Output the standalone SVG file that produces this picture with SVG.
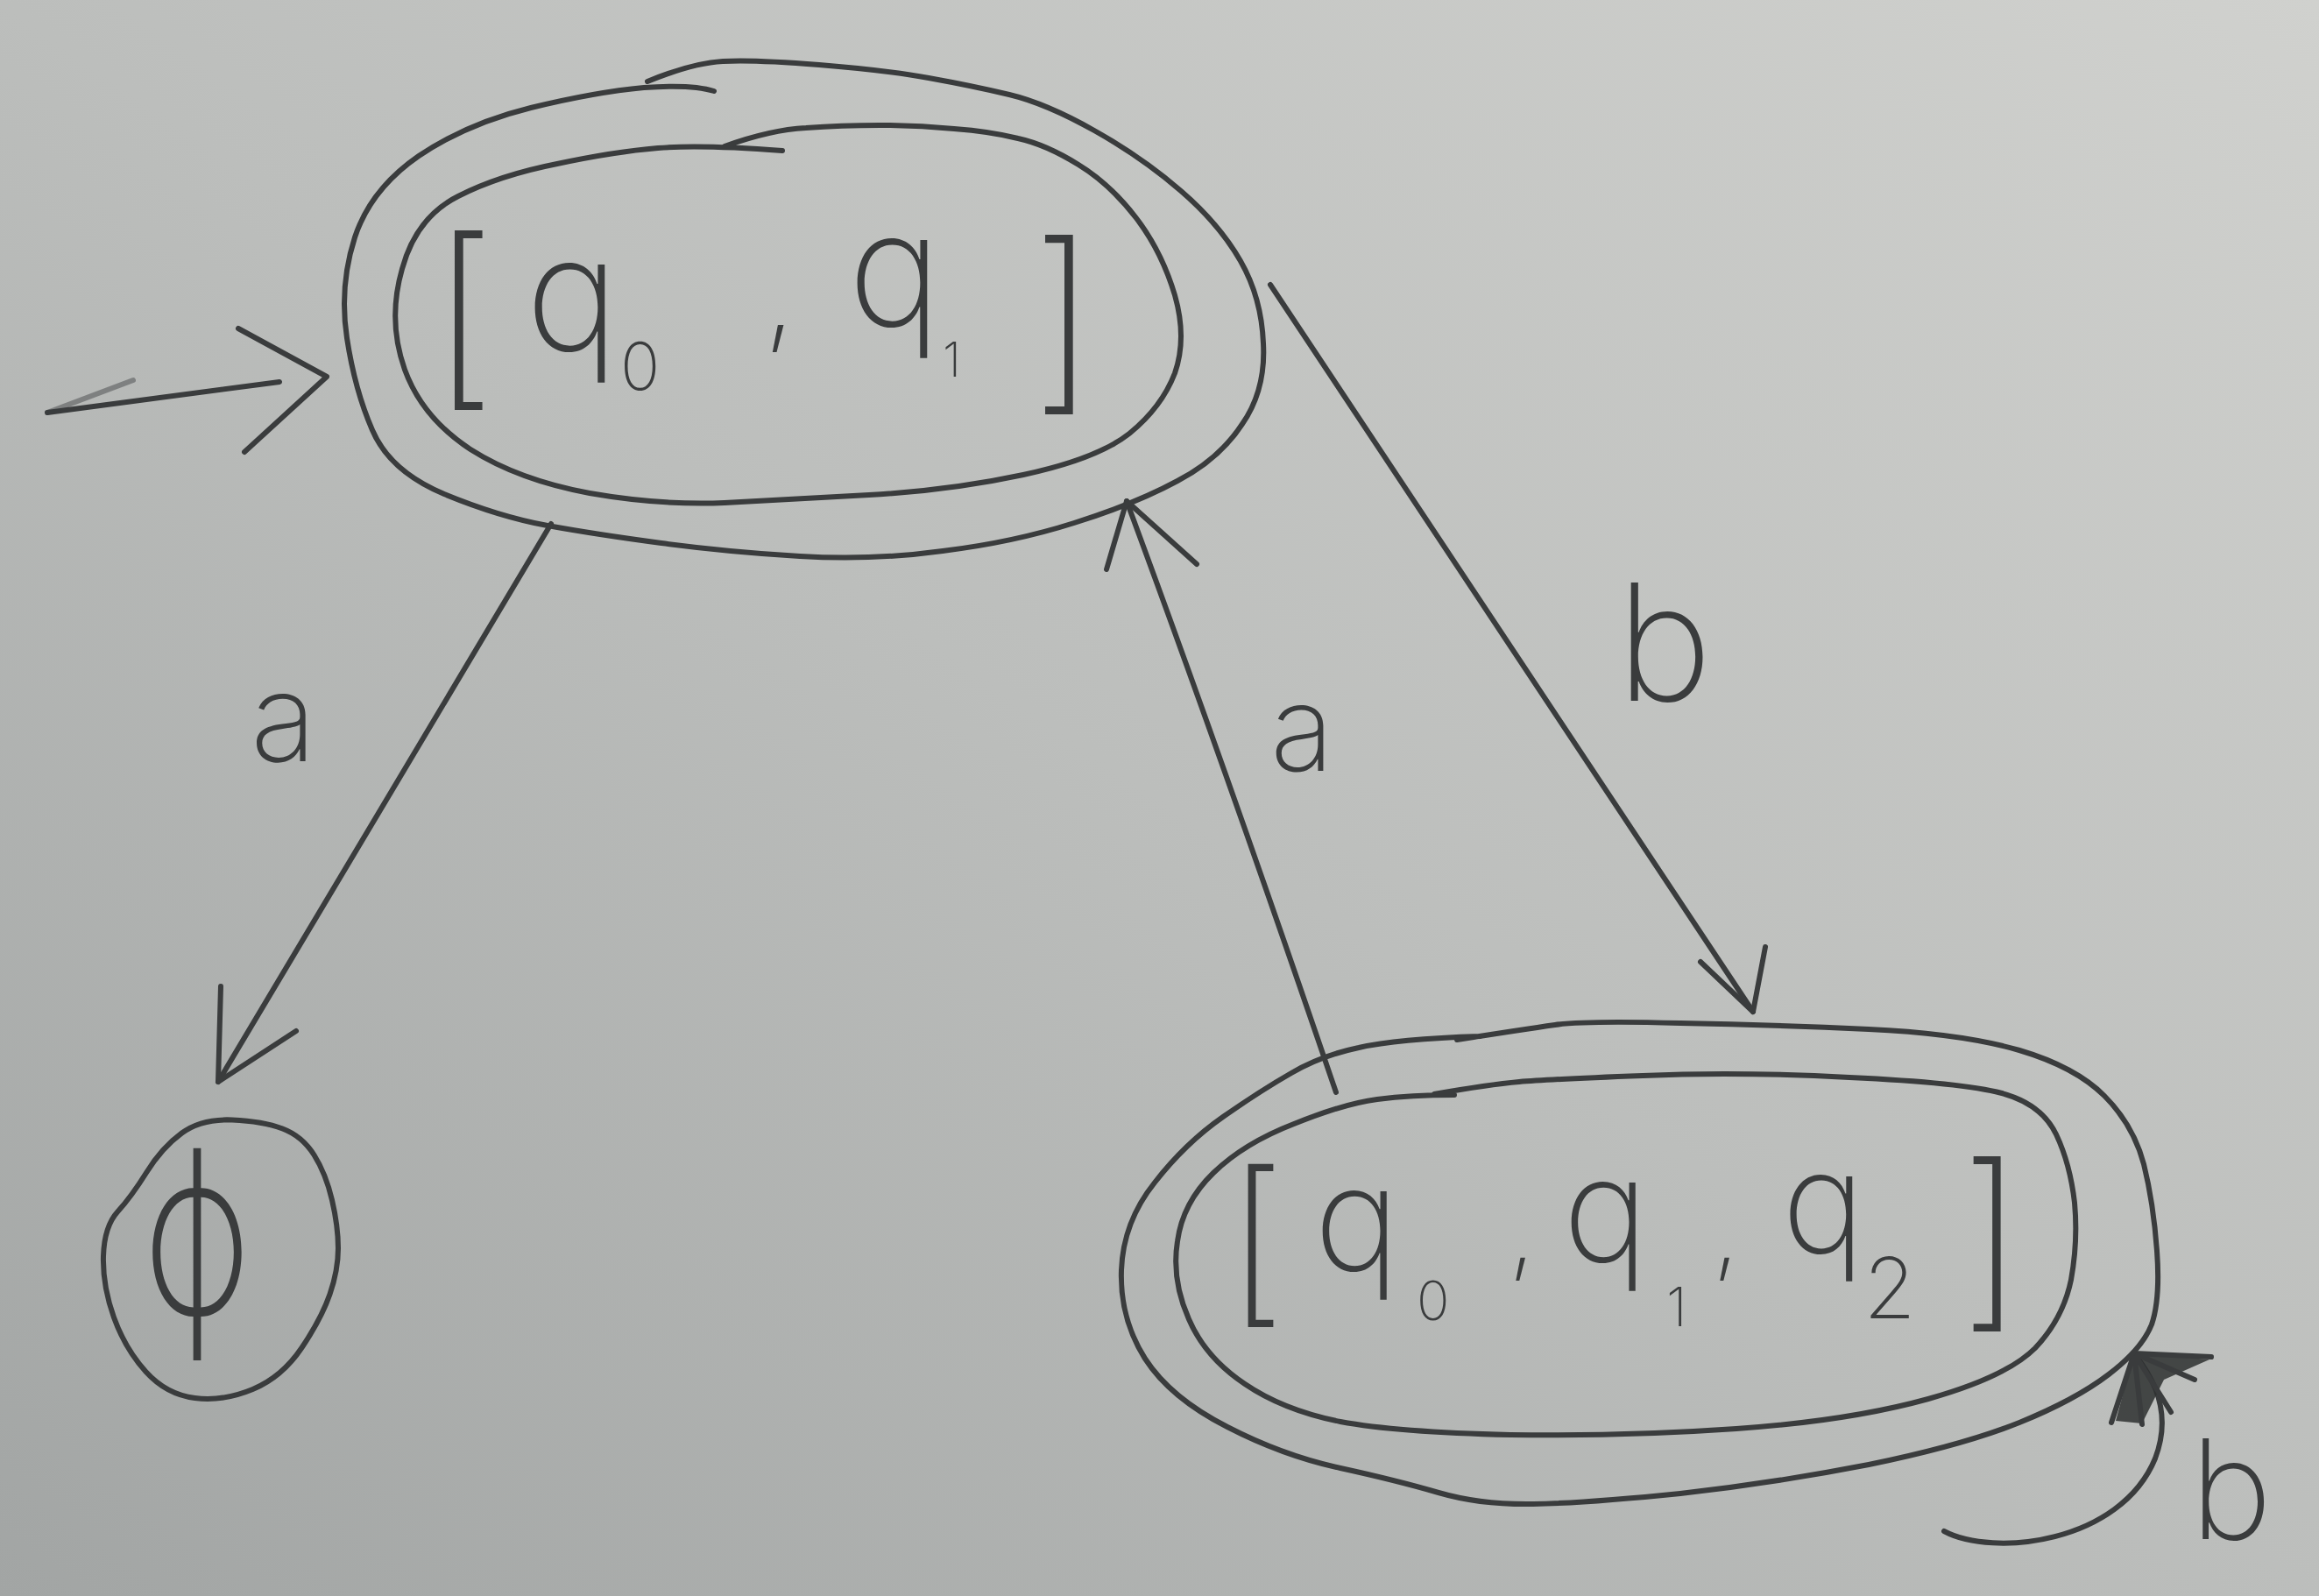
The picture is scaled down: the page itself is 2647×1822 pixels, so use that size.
<svg xmlns="http://www.w3.org/2000/svg" width="2647" height="1822" viewBox="0 0 2647 1822">
<defs>
<linearGradient id="paper" x1="1" y1="0" x2="0" y2="1">
<stop offset="0" stop-color="#d0d1ce"/>
<stop offset="0.5" stop-color="#bcbebc"/>
<stop offset="1" stop-color="#a2a5a4"/>
</linearGradient>
<style>
.ink{fill:none;stroke:#3a3c3d;stroke-width:6;stroke-linecap:round;stroke-linejoin:round}
.hw{font-family:Inter,"Liberation Sans",sans-serif;font-weight:200;fill:#3a3c3d}
.lbl{font-family:Inter,"Liberation Sans",sans-serif;font-weight:200;fill:#3a3c3d}
</style>
</defs>
<rect width="2647" height="1822" fill="url(#paper)"/>

<g id="connectors">
<g id="start">
<path class="ink" d="M54,471 L319,436"/>
<path class="ink" d="M272,375 L373,430 L279,516"/>
<path class="ink" opacity="0.45" d="M54,471 L152,434"/>
</g>
<g id="e-q01-phi">
<path class="ink" d="M629,598 L249,1235"/>
<path class="ink" d="M252,1126 L249,1235 L338,1177"/>
<text class="lbl" x="286" y="869" font-size="140">a</text>
</g>
<g id="e-q012-q01">
<path class="ink" d="M1525,1247 Q1400,880 1286,572"/>
<path class="ink" d="M1263,650 L1286,572 L1366,644"/>
<text class="lbl" x="1450" y="880" font-size="135">a</text>
</g>
<g id="e-q01-q012">
<path class="ink" d="M1450,325 L2001,1155"/>
<path class="ink" d="M1941,1098 L2001,1155 L2015,1081"/>
<text class="lbl" x="1845" y="800" font-size="185">b</text>
</g>
<g id="e-q012-loop">
<path class="ink" d="M2219,1748 C2275,1778 2420,1762 2460,1665 C2478,1618 2462,1578 2438,1548"/>
<path fill="#2e3030" d="M2436,1545 L2522,1552 L2470,1575 L2445,1625 L2415,1622 Z" opacity="0.85"/>
<path class="ink" d="M2436,1545 L2524,1549 M2436,1545 L2505,1575 M2436,1545 L2478,1612 M2436,1545 L2445,1626 M2436,1545 L2410,1624"/>
<text class="lbl" x="2500" y="1757" font-size="158">b</text>
</g>
</g>

<g id="q01">
<path class="ink" d="M739,93 Q790,72 825,70 Q860,68 935,74 Q1010,80 1060,89 Q1110,98 1152,108 Q1194,118 1249,149 Q1304,180 1348,218 Q1392,256 1416,298 Q1440,340 1442,392 Q1445,445 1418,484 Q1392,524 1344,549 Q1296,575 1226,597 Q1157,619 1076,629 Q996,640 913,635 Q830,630 755,620 Q680,610 625,600 Q570,590 507,564 Q445,538 425,491 Q405,445 396,386 Q387,327 405,271 Q423,216 478,178 Q533,141 606,123 Q680,105 735,100 Q790,96 815,104"/>
<path class="ink" d="M827,167 Q880,148 920,146 Q960,143 1004,143 Q1047,143 1089,147 Q1130,150 1162,158 Q1194,165 1231,188 Q1267,210 1297,249 Q1326,287 1341,337 Q1355,386 1341,426 Q1326,465 1289,495 Q1252,524 1168,542 Q1084,560 992,565 Q900,570 827,574 Q753,577 673,563 Q592,548 537,513 Q482,477 462,422 Q442,366 459,307 Q475,248 523,224 Q570,200 636,187 Q702,173 751,169 Q800,165 893,172"/>
<text class="hw" x="492" y="437" font-size="225">[</text>
<text class="hw" x="600" y="400" font-size="180">q</text>
<text class="hw" x="708" y="445" font-size="75">0</text>
<text class="hw" x="872" y="382" font-size="130">,</text>
<text class="hw" x="968" y="372" font-size="180">q</text>
<text class="hw" x="1076" y="430" font-size="55">1</text>
<text class="hw" x="1177" y="442" font-size="225">]</text>
</g>

<g id="phi">
<path class="ink" d="M207.5,1293.5 Q230,1277 265,1278.5 Q300,1280 322.5,1288.5 Q345,1297 358.5,1318.5 Q372,1340 379,1370 Q386,1400 386,1425 Q386,1450 376.5,1477.5 Q367,1505 344.5,1538.5 Q322,1572 288.5,1586 Q255,1600 222.5,1596 Q190,1592 166.5,1566 Q143,1540 130,1504 Q117,1468 118,1434 Q119,1400 134.5,1383 Q150,1366 167.5,1338 Q185,1310 207.5,1293.5 Z"/>
<text class="hw" x="225" y="1500" font-size="260" font-family="'DejaVu Sans',sans-serif" text-anchor="middle" textLength="125" lengthAdjust="spacingAndGlyphs">ϕ</text>
</g>

<g id="q012">
<path class="ink" d="M1663,1187 Q1740,1175 1775,1170 Q1810,1165 1918,1168 Q2025,1170 2133,1175 Q2240,1180 2305,1199 Q2369,1218 2402,1251 Q2435,1284 2447,1329 Q2458,1373 2462,1428 Q2466,1483 2456,1512 Q2445,1540 2407,1569 Q2369,1598 2305,1624 Q2240,1650 2133,1672 Q2025,1693 1918,1705 Q1810,1716 1750,1717 Q1690,1718 1642,1704 Q1594,1690 1530,1676 Q1465,1662 1401,1629 Q1336,1596 1307,1551 Q1278,1505 1280,1450 Q1282,1395 1318,1350 Q1353,1305 1396,1275 Q1439,1245 1474,1225 Q1508,1205 1551,1196 Q1594,1186 1690,1183"/>
<path class="ink" d="M1637,1249 Q1700,1238 1734,1235 Q1767,1232 1875,1228 Q1982,1223 2111,1230 Q2240,1236 2285,1248 Q2330,1260 2347,1295 Q2363,1329 2368,1373 Q2372,1417 2364,1461 Q2355,1505 2323,1539 Q2290,1572 2201,1597 Q2111,1622 1982,1631 Q1853,1640 1724,1638 Q1594,1635 1530,1623 Q1465,1610 1421,1580 Q1376,1550 1357,1506 Q1337,1461 1344,1417 Q1350,1373 1385,1339 Q1420,1305 1477,1283 Q1534,1260 1572,1255 Q1610,1250 1660,1250"/>
<text class="hw" x="1400" y="1487" font-size="205">[</text>
<text class="hw" x="1500" y="1450" font-size="165">q</text>
<text class="hw" x="1617" y="1507" font-size="62">0</text>
<text class="hw" x="1722" y="1445" font-size="110">,</text>
<text class="hw" x="1784" y="1440" font-size="165">q</text>
<text class="hw" x="1902" y="1514" font-size="62">1</text>
<text class="hw" x="1955" y="1445" font-size="110">,</text>
<text class="hw" x="2034" y="1430" font-size="160">q</text>
<text class="hw" x="2127" y="1505" font-size="97">2</text>
<text class="hw" x="2237" y="1490" font-size="220">]</text>
</g>
</svg>
